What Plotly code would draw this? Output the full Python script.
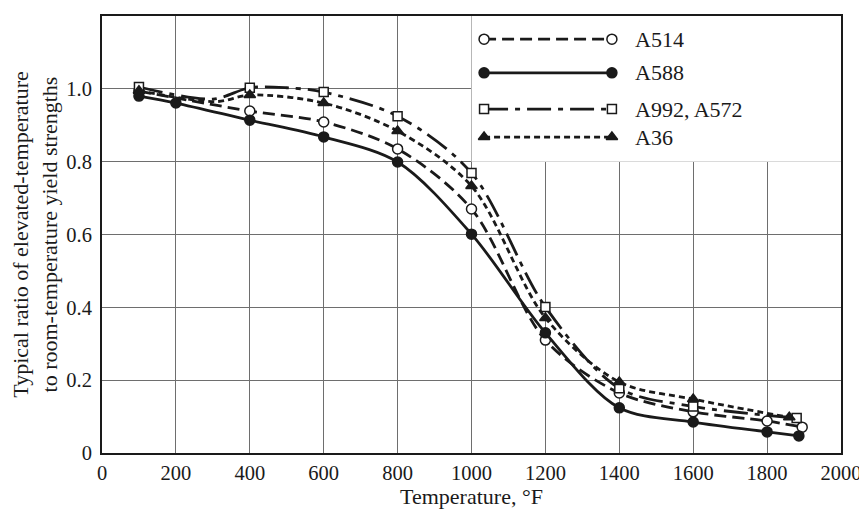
import plotly.graph_objects as go

# ---------------- data ----------------
temp_a514 = [100, 400, 600, 800, 1000, 1200, 1400, 1600, 1800, 1895]
ratio_a514 = [0.994, 0.939, 0.909, 0.835, 0.670, 0.310, 0.165, 0.113, 0.088, 0.071]
mark_a514 = [1, 1, 1, 1, 1, 1, 1, 1, 1, 1]

temp_a588 = [100, 200, 400, 600, 800, 1000, 1200, 1400, 1600, 1800, 1886]
ratio_a588 = [0.980, 0.961, 0.914, 0.868, 0.799, 0.601, 0.330, 0.124, 0.085, 0.058, 0.047]
mark_a588 = [1, 1, 1, 1, 1, 1, 1, 1, 1, 1, 1]

temp_a992 = [100, 300, 400, 500, 600, 800, 1000, 1200, 1400, 1600, 1880]
ratio_a992 = [1.005, 0.972, 1.003, 1.003, 0.991, 0.925, 0.769, 0.401, 0.178, 0.128, 0.096]
mark_a992 = [1, 0, 1, 0, 1, 1, 1, 1, 1, 1, 1]

temp_a36 = [100, 310, 400, 600, 800, 1000, 1200, 1400, 1600, 1860]
ratio_a36 = [0.995, 0.965, 0.983, 0.961, 0.884, 0.733, 0.371, 0.195, 0.148, 0.098]
mark_a36 = [1, 0, 1, 1, 1, 1, 1, 1, 1, 1]

names = ["A514", "A588", "A992, A572", "A36"]
x_ticks = [0, 200, 400, 600, 800, 1000, 1200, 1400, 1600, 1800, 2000]
y_ticks = [0, 0.2, 0.4, 0.6, 0.8, 1.0, 1.2]
y_ticktext = ["0", "0.2", "0.4", "0.6", "0.8", "1.0", "1.2"]

# ---------------- styles ----------------
FONT = "Liberation Serif, Times New Roman, serif"
FS = 22
FS_TICK = 20.5
INK = "#1a1a1a"
styles = [
    dict(dash="12px,6px", symbol="circle", fill="white", size=10),
    dict(dash="solid", symbol="circle", fill=INK, size=10),
    dict(dash="24px,7px,5px,7px", symbol="square", fill="white", size=9),
    dict(dash="6px,4px", symbol="triangle-up", fill=INK, size=10),
]
series = [
    (temp_a514, ratio_a514, mark_a514),
    (temp_a588, ratio_a588, mark_a588),
    (temp_a992, ratio_a992, mark_a992),
    (temp_a36, ratio_a36, mark_a36),
]

fig = go.Figure()

for name, (xs, ys, mk), st in zip(names, series, styles):
    fig.add_trace(go.Scatter(
        x=xs, y=ys, name=name, mode="lines+markers",
        line=dict(color=INK, width=2.8, dash=st["dash"], shape="spline", smoothing=0.9),
        marker=dict(symbol=st["symbol"], size=st["size"], color=st["fill"],
                    opacity=mk, line=dict(color=INK, width=1.5)),
        showlegend=False,
    ))

# ---------------- custom legend (paper-like overlay axis) ----------------
leg_x0, leg_x1, leg_text_x = 0.517, 0.690, 0.719
leg_rows = [0.947, 0.870, 0.787, 0.723]
for name, st, ry in zip(names, styles, leg_rows):
    fig.add_trace(go.Scatter(
        x=[leg_x0, leg_x1], y=[ry, ry], xaxis="x2", yaxis="y2",
        mode="lines+markers",
        line=dict(color=INK, width=2.8, dash=st["dash"]),
        marker=dict(symbol=st["symbol"], size=st["size"], color=st["fill"],
                    line=dict(color=INK, width=1.5)),
        showlegend=False, hoverinfo="skip",
    ))
    fig.add_annotation(x=leg_text_x, y=ry, xref="x2", yref="y2", text=name,
                       showarrow=False, xanchor="left", yanchor="middle",
                       font=dict(family=FONT, size=FS, color=INK))

# white area behind legend (covers grid in that region)
fig.add_shape(type="rect", xref="x", yref="y", x0=1000, x1=2000, y0=0.8, y1=1.2,
              fillcolor="white", line=dict(width=0), layer="between")

grid = dict(showgrid=True, gridcolor="#6e6e6e", gridwidth=1.4, zeroline=False,
            showline=True, linecolor=INK, linewidth=2, mirror=True, ticks="",
            automargin=False,
            tickfont=dict(family=FONT, size=FS_TICK, color=INK))

# the page body adds an 8px offset, so the figure is 8px smaller than the window
fig.update_layout(
    width=859, height=506,
    margin=dict(l=94, r=26, t=8, b=61),
    paper_bgcolor="white", plot_bgcolor="white",
    font=dict(family=FONT, size=FS, color=INK),
    xaxis=dict(range=[0, 2000], tickvals=x_ticks, ticktext=[str(v) for v in x_ticks],
               title=dict(text="Temperature, °F", font=dict(family=FONT, size=FS), standoff=5),
               **grid),
    yaxis=dict(range=[0, 1.2], tickvals=y_ticks, ticktext=y_ticktext,
               ticklabelstandoff=4,
               title=dict(text="Typical ratio of elevated-temperature<br>to room-temperature yield strengths",
                          font=dict(family=FONT, size=FS), standoff=6),
               **grid),
    xaxis2=dict(range=[0, 1], overlaying="x", visible=False, fixedrange=True),
    yaxis2=dict(range=[0, 1], overlaying="y", visible=False, fixedrange=True),
    showlegend=False,
)

fig.write_html("out.html")
